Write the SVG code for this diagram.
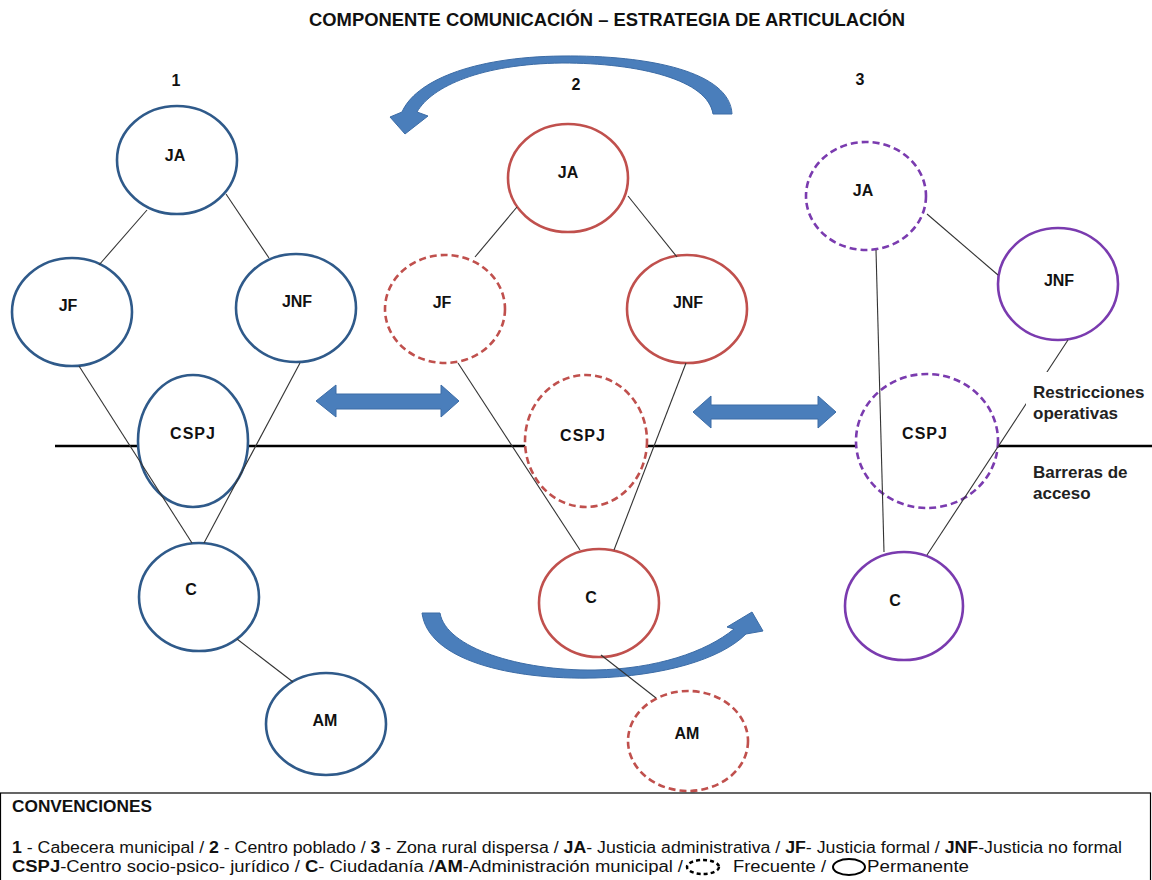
<svg xmlns="http://www.w3.org/2000/svg" width="1152" height="880" viewBox="0 0 1152 880">
  <style>
    text { font-family: "Liberation Sans", Arial, sans-serif; fill: #111; }
    .lbl { font-size: 16px; font-weight: bold; text-anchor: middle; }
    .num { font-size: 16px; font-weight: bold; text-anchor: middle; }
    .side { font-size: 17px; font-weight: bold; fill: #222; }
    .leg { font-size: 16px; }
    .b { font-weight: bold; }
    .n { fill: #fff; stroke-width: 2.6; }
    .blue { stroke: #2F5A8A; }
    .red { stroke: #C0504D; }
    .purple { stroke: #7A3BAF; }
    .dash { stroke-dasharray: 7 4; }
    .conn line { stroke: #333; stroke-width: 1.1; }
    .big { fill: #4A7EBB; stroke: #3C6CA6; stroke-width: 1; }
  </style>

  <!-- title and column numbers -->
  <text x="309" y="26" font-size="18" font-weight="bold" textLength="596" lengthAdjust="spacingAndGlyphs">COMPONENTE COMUNICACIÓN – ESTRATEGIA DE ARTICULACIÓN</text>
  <text class="num" x="176" y="86">1</text>
  <text class="num" x="576" y="90">2</text>
  <text class="num" x="860" y="85">3</text>

  <!-- access barrier line -->
  <line x1="55" y1="446" x2="1152" y2="446" stroke="#000" stroke-width="2.5"/>

  <!-- curved arrows -->
  <path class="big" d="M732,114 C730,72 650,55 562,56 C470,57 415,82 402,112 L390,117 L405,134 L428,116 L417,112 C432,86 482,64 562,63 C640,63 708,80 713,114 Z"/>
  <path class="big" d="M422,613 C428,660 510,680 595,678 C662,676 720,660 746,634 L763,631 L752,612 L727,627 L734,629 C706,652 656,669 595,670 C520,671 446,648 440,613 Z"/>

  <!-- double arrows -->
  <path class="big" d="M316,401 L336,385 L336,394 L441,394 L441,385 L459,401 L441,417 L441,409 L336,409 L336,417 Z"/>
  <path class="big" d="M693,412 L711,396 L711,405 L818,405 L818,396 L836,412 L818,428 L818,419 L711,419 L711,428 Z"/>

  <!-- column 1: municipal seat -->
  <g id="c1-ja"><ellipse class="n blue" cx="177" cy="160" rx="60" ry="54"/><text class="lbl" x="175" y="161">JA</text></g>
  <g id="c1-jf"><ellipse class="n blue" cx="72" cy="312" rx="60" ry="54"/><text class="lbl" x="68" y="311">JF</text></g>
  <g id="c1-jnf"><ellipse class="n blue" cx="296" cy="308" rx="60" ry="54"/><text class="lbl" x="297" y="307">JNF</text></g>
  <g id="c1-cspj"><ellipse class="n blue" cx="193" cy="441" rx="55" ry="66"/><text class="lbl" x="193" y="439" letter-spacing="1">CSPJ</text></g>
  <g id="c1-c"><ellipse class="n blue" cx="199" cy="597" rx="60" ry="54"/><text class="lbl" x="191" y="595">C</text></g>
  <g id="c1-am"><ellipse class="n blue" cx="326" cy="724" rx="60" ry="51"/><text class="lbl" x="325" y="726">AM</text></g>

  <!-- column 2: populated centre -->
  <g id="c2-ja"><ellipse class="n red" cx="568" cy="178" rx="60" ry="54"/><text class="lbl" x="568" y="178">JA</text></g>
  <g id="c2-jf"><ellipse class="n red dash" cx="445" cy="309" rx="60" ry="54"/><text class="lbl" x="442" y="308">JF</text></g>
  <g id="c2-jnf"><ellipse class="n red" cx="687" cy="309" rx="60" ry="54"/><text class="lbl" x="688" y="308">JNF</text></g>
  <g id="c2-cspj"><ellipse class="n red dash" cx="586" cy="441" rx="61" ry="66"/><text class="lbl" x="583" y="441" letter-spacing="1">CSPJ</text></g>
  <g id="c2-c"><ellipse class="n red" cx="599" cy="603" rx="60" ry="54"/><text class="lbl" x="591" y="603">C</text></g>
  <g id="c2-am"><ellipse class="n red dash" cx="688" cy="741" rx="60" ry="50"/><text class="lbl" x="687" y="739">AM</text></g>

  <!-- column 3: dispersed rural zone -->
  <g id="c3-ja"><ellipse class="n purple dash" cx="866" cy="196" rx="60" ry="54"/><text class="lbl" x="863" y="196">JA</text></g>
  <g id="c3-jnf"><ellipse class="n purple" cx="1058" cy="284" rx="60" ry="56"/><text class="lbl" x="1059" y="286">JNF</text></g>
  <g id="c3-cspj"><ellipse class="n purple dash" cx="927" cy="441" rx="71" ry="67"/><text class="lbl" x="925" y="439" letter-spacing="1">CSPJ</text></g>
  <g id="c3-c"><ellipse class="n purple" cx="904" cy="606" rx="59" ry="54"/><text class="lbl" x="895" y="606">C</text></g>

  <!-- connectors -->
  <g id="connectors" class="conn">
    <line x1="147" y1="210" x2="99" y2="265"/>
    <line x1="226" y1="194" x2="269" y2="258"/>
    <line x1="79" y1="366" x2="192" y2="543"/>
    <line x1="300" y1="363" x2="204" y2="543"/>
    <line x1="237" y1="639" x2="293" y2="682"/>

    <line x1="517" y1="207" x2="475" y2="257"/>
    <line x1="628" y1="196" x2="677" y2="257"/>
    <line x1="458" y1="363" x2="580" y2="550"/>
    <line x1="686" y1="363" x2="614" y2="550"/>
    <line x1="601" y1="655" x2="656" y2="698"/>

    <line x1="927" y1="214" x2="998" y2="275"/>
    <line x1="876" y1="250" x2="884" y2="552"/>
    <line x1="1068" y1="340" x2="927" y2="555"/>
  </g>

  <!-- side notes -->
  <rect x="1026" y="372" width="126" height="33" fill="#fff"/>
  <text class="side" x="1033" y="398">Restricciones</text>
  <text class="side" x="1033" y="419">operativas</text>
  <text class="side" x="1033" y="478">Barreras de</text>
  <text class="side" x="1033" y="499">acceso</text>

  <!-- conventions -->
  <rect x="0.5" y="793" width="1150" height="100" fill="none" stroke="#000" stroke-width="1.2"/>
  <text class="leg b" x="12" y="812" textLength="140" lengthAdjust="spacingAndGlyphs">CONVENCIONES</text>
  <text class="leg" x="12" y="853" textLength="1110" lengthAdjust="spacingAndGlyphs"><tspan class="b">1</tspan> - Cabecera municipal / <tspan class="b">2</tspan> - Centro poblado / <tspan class="b">3</tspan> - Zona rural dispersa / <tspan class="b">JA</tspan>- Justicia administrativa /  <tspan class="b">JF</tspan>- Justicia formal /  <tspan class="b">JNF</tspan>-Justicia no formal</text>
  <text class="leg" x="12" y="872" textLength="671" lengthAdjust="spacingAndGlyphs"><tspan class="b">CSPJ</tspan>-Centro socio-psico- jurídico / <tspan class="b">C</tspan>-  Ciudadanía /<tspan class="b">AM</tspan>-Administración municipal /</text>
  <ellipse cx="703" cy="867" rx="16" ry="7" fill="none" stroke="#000" stroke-width="2.5" stroke-dasharray="4 3"/>
  <text class="leg" x="733" y="872" textLength="93" lengthAdjust="spacingAndGlyphs">Frecuente /</text>
  <ellipse cx="849" cy="867" rx="16" ry="8" fill="none" stroke="#000" stroke-width="2"/>
  <text class="leg" x="867" y="872" textLength="102" lengthAdjust="spacingAndGlyphs">Permanente</text>
</svg>
